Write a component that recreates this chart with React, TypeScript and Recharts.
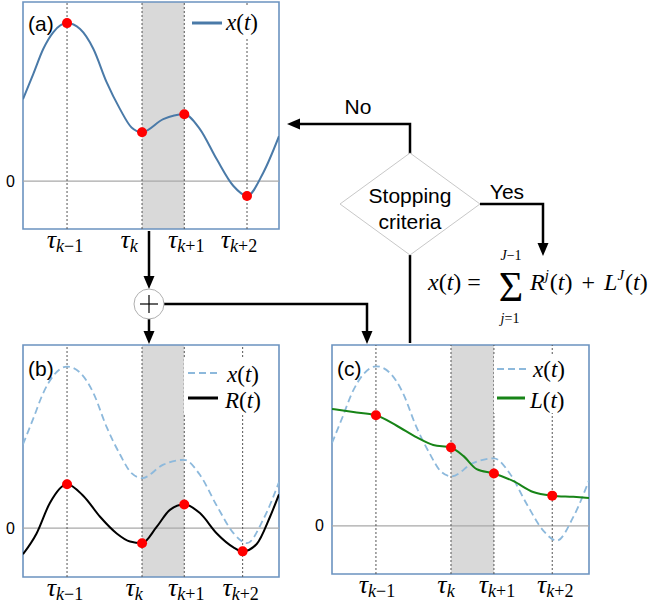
import React from "react";
import {
  ComposedChart,
  Line,
  XAxis,
  YAxis,
  ReferenceLine,
  ReferenceArea,
  ReferenceDot,
} from "recharts";

// time axis runs 0..100 across each panel, values in signal units
const T_X = [0, 4, 7.9, 11.8, 17.2, 22.3, 27.5, 32.7, 37.9, 42.4, 46.5, 54.8, 63, 69.1, 75.7, 82.2, 87.5, 93.9, 100];
const X_VALS = [2.06, 2.69, 3.32, 3.74, 3.97, 3.82, 3.32, 2.48, 1.81, 1.35, 1.23, 1.56, 1.68, 1.31, 0.55, -0.12, -0.37, 0.22, 1.13];

const T_R = [0, 5.3, 10.5, 17.2, 23.6, 30.1, 36.6, 41.8, 46.5, 52.2, 57.4, 63, 69.1, 75.7, 82.2, 85.8, 91.3, 96.5, 100];
const R_VALS = [-0.64, -0.13, 0.62, 1.08, 0.79, 0.28, -0.13, -0.33, -0.37, 0.03, 0.45, 0.58, 0.37, -0.13, -0.47, -0.57, -0.39, 0.28, 0.83];

const T_L = [0, 8.3, 17.1, 25.2, 33, 39.4, 46.2, 51.1, 56.3, 63, 70.6, 78.3, 85.7, 93.9, 100];
const L_VALS = [2.91, 2.83, 2.75, 2.49, 2.2, 2.01, 1.95, 1.74, 1.41, 1.3, 1.11, 0.84, 0.75, 0.72, 0.69];

const TAU_A = [17.2, 46.5, 63, 87.5];
const TAU_B = [17.2, 46.5, 63, 85.8];
const TAU_C = [17.1, 46.3, 63, 85.7];
const TAU_SUBS = [["k", "−1"], ["k", ""], ["k", "+1"], ["k", "+2"]];
// label nudges (px) as placed in the figure
const NUDGE_A = [-2, -13, 2, -8];
const NUDGE_B = [-2, -8, 2, -2];
const NUDGE_C = [1, -5, 3, 3];

const DOT_A = [3.97, 1.23, 1.68, -0.37];
const DOT_B = [1.08, -0.37, 0.58, -0.57];
const DOT_C = [2.75, 1.95, 1.3, 0.75];

const Y_DOMAIN = [-1.2, 4.5];

const BLUE = "#4a7aa8";
const LIGHT_BLUE = "#8db9dc";
const GREEN = "#178417";
const FRAME = "#6b93c0";
const SERIF = "Liberation Serif, DejaVu Serif, serif";
const SANS = "Liberation Sans, Arial, sans-serif";

const toRows = (ts: number[], vs: number[]) => ts.map((t, i) => ({ t, v: vs[i] }));

function TauTick({ x, y, payload, taus, nudge }: any) {
  const i = taus.indexOf(payload.value);
  const [k, rest] = TAU_SUBS[i] || ["", ""];
  return (
    <text x={x + (nudge[i] || 0)} y={y + 11} textAnchor="middle" style={{ fontFamily: SERIF }} fill="#000">
      <tspan fontSize={26} fontStyle="italic">τ</tspan>
      <tspan fontSize={18} fontStyle="italic" dy={4}>{k}</tspan>
      <tspan fontSize={18}>{rest}</tspan>
    </text>
  );
}

type Series = { rows: { t: number; v: number }[]; color: string; dash?: string; width: number };

function Panel({ left, top, width, height, marginTop, yWidth, xHeight, taus, nudge, series, dots }: {
  left: number; top: number; width: number; height: number; marginTop: number;
  yWidth: number; xHeight: number; taus: number[]; nudge: number[]; series: Series[]; dots: number[];
}) {
  return (
    <div style={{ position: "absolute", left, top }}>
      <ComposedChart width={width} height={height} margin={{ top: marginTop, right: 6, left: 0, bottom: 0 }}>
        <XAxis
          type="number"
          dataKey="t"
          domain={[0, 100]}
          ticks={taus}
          allowDataOverflow
          axisLine={false}
          tickLine={false}
          height={xHeight}
          interval={0}
          tick={<TauTick taus={taus} nudge={nudge} />}
        />
        <YAxis
          type="number"
          domain={Y_DOMAIN}
          ticks={[0]}
          allowDataOverflow
          axisLine={false}
          tickLine={false}
          width={yWidth}
          tick={{ fill: "#000", fontSize: 16, fontFamily: SANS }}
        />
        <ReferenceArea x1={taus[1]} x2={taus[2]} y1={Y_DOMAIN[0]} y2={Y_DOMAIN[1]} fill="#d9d9d9" fillOpacity={1} stroke="none" />
        <ReferenceLine y={0} stroke="#a8a8a8" strokeWidth={1.2} />
        {taus.map((t) => (
          <ReferenceLine key={t} x={t} stroke="#555" strokeDasharray="2 2" strokeWidth={1} />
        ))}
        {series.map((s, i) => (
          <Line
            key={i}
            data={s.rows}
            dataKey="v"
            type="monotone"
            stroke={s.color}
            strokeWidth={s.width}
            strokeDasharray={s.dash}
            dot={false}
            isAnimationActive={false}
          />
        ))}
        {taus.map((t, i) => (
          <ReferenceDot key={"d" + t} x={t} y={dots[i]} r={5} fill="#ff0000" stroke="none" />
        ))}
        <ReferenceArea
          x1={0}
          x2={100}
          y1={Y_DOMAIN[0]}
          y2={Y_DOMAIN[1]}
          fill="none"
          stroke={FRAME}
          strokeWidth={1.6}
          ifOverflow="visible"
        />
      </ComposedChart>
    </div>
  );
}

function MathLabel({ x, y, name }: { x: number; y: number; name: string }) {
  return (
    <text x={x} y={y} style={{ fontFamily: SERIF }} fontSize={23} fill="#000">
      <tspan fontStyle="italic">{name}</tspan>
      <tspan>(</tspan>
      <tspan fontStyle="italic">t</tspan>
      <tspan>)</tspan>
    </text>
  );
}

function Arrow({ d, tip, dir }: { d: string; tip: [number, number]; dir: "down" | "left" }) {
  const [tx, ty] = tip;
  const head =
    dir === "down"
      ? `${tx},${ty} ${tx - 5.5},${ty - 13} ${tx + 5.5},${ty - 13}`
      : `${tx},${ty} ${tx + 13},${ty - 5.5} ${tx + 13},${ty + 5.5}`;
  return (
    <g>
      <path d={d} fill="none" stroke="#000" strokeWidth={2.5} />
      <polygon points={head} fill="#000" />
    </g>
  );
}

export default function App() {
  const xRows = toRows(T_X, X_VALS);
  const rRows = toRows(T_R, R_VALS);
  const lRows = toRows(T_L, L_VALS);

  return (
    <div style={{ position: "absolute", left: 0, top: 0, width: 657, height: 604, background: "#fff", overflow: "hidden" }}>
      <Panel
        left={0} top={0} width={285} height={260} marginTop={2} yWidth={23} xHeight={31}
        taus={TAU_A} nudge={NUDGE_A}
        series={[{ rows: xRows, color: BLUE, width: 2 }]}
        dots={DOT_A}
      />
      <Panel
        left={0} top={340} width={285} height={270} marginTop={5} yWidth={23} xHeight={33}
        taus={TAU_B} nudge={NUDGE_B}
        series={[
          { rows: xRows, color: LIGHT_BLUE, width: 1.8, dash: "7 4" },
          { rows: rRows, color: "#000", width: 2 },
        ]}
        dots={DOT_B}
      />
      <Panel
        left={300} top={340} width={295} height={270} marginTop={5} yWidth={32} xHeight={36}
        taus={TAU_C} nudge={NUDGE_C}
        series={[
          { rows: xRows, color: LIGHT_BLUE, width: 1.8, dash: "7 4" },
          { rows: lRows, color: GREEN, width: 2 },
        ]}
        dots={DOT_C}
      />

      <svg width={657} height={604} style={{ position: "absolute", left: 0, top: 0, pointerEvents: "none" }}>
        {/* panel letters */}
        <text x={28} y={31} style={{ fontFamily: SANS }} fontSize={21}>(a)</text>
        <text x={28} y={376} style={{ fontFamily: SANS }} fontSize={21}>(b)</text>
        <text x={337} y={376} style={{ fontFamily: SANS }} fontSize={21}>(c)</text>

        {/* legends */}
        <rect x={188} y={6} width={76} height={32} fill="#fff" />
        <line x1={192} y1={23} x2={222} y2={23} stroke={BLUE} strokeWidth={3} />
        <MathLabel x={226} y={30} name="x" />

        <rect x={184} y={358} width={86} height={56} fill="#fff" />
        <line x1={188} y1={373} x2={220} y2={373} stroke={LIGHT_BLUE} strokeWidth={2} strokeDasharray="7 4" />
        <MathLabel x={227} y={382} name="x" />
        <line x1={188} y1={398} x2={218} y2={398} stroke="#000" strokeWidth={3} />
        <MathLabel x={225} y={408} name="R" />

        <rect x={494} y={355} width={92} height={58} fill="#fff" />
        <line x1={497} y1={369} x2={527} y2={369} stroke={LIGHT_BLUE} strokeWidth={2} strokeDasharray="7 4" />
        <MathLabel x={533} y={377} name="x" />
        <line x1={497} y1={398} x2={525} y2={398} stroke={GREEN} strokeWidth={3} />
        <MathLabel x={530} y={408} name="L" />

        {/* flow: stopping criteria */}
        <line x1={410} y1={255} x2={410} y2={343} stroke="#000" strokeWidth={2.5} />
        <Arrow d="M410,154 V124 H298" tip={[287, 124]} dir="left" />
        <Arrow d="M480,204 H543 V244" tip={[543, 256]} dir="down" />
        <polygon points="410,153 480,204 410,255 340,204" fill="#fff" stroke="#c8c8c8" strokeWidth={1} />
        <text x={410} y={203} textAnchor="middle" style={{ fontFamily: SANS }} fontSize={21}>Stopping</text>
        <text x={410} y={229} textAnchor="middle" style={{ fontFamily: SANS }} fontSize={21}>criteria</text>
        <text x={358} y={114} textAnchor="middle" style={{ fontFamily: SANS }} fontSize={21}>No</text>
        <text x={507} y={199} textAnchor="middle" style={{ fontFamily: SANS }} fontSize={21}>Yes</text>

        {/* flow: residual / sum */}
        <Arrow d="M149,231 V277" tip={[149, 289]} dir="down" />
        <Arrow d="M149,319 V332" tip={[149, 344]} dir="down" />
        <Arrow d="M164,304 H367 V332" tip={[367, 344]} dir="down" />
        <circle cx={149} cy={304} r={15} fill="#fff" stroke="#b0b0b0" strokeWidth={1} />
        <line x1={140} y1={304} x2={158} y2={304} stroke="#000" strokeWidth={1.2} />
        <line x1={149} y1={295} x2={149} y2={313} stroke="#000" strokeWidth={1.2} />

        {/* reconstruction formula */}
        <text x={428} y={290} style={{ fontFamily: SERIF }} fontSize={24}>
          <tspan fontStyle="italic">x</tspan>
          <tspan>(</tspan>
          <tspan fontStyle="italic">t</tspan>
          <tspan>)</tspan>
          <tspan dx={6}>=</tspan>
        </text>
        <text x={511} y={301} textAnchor="middle" style={{ fontFamily: SERIF }} fontSize={42}>Σ</text>
        <text x={511} y={260} textAnchor="middle" style={{ fontFamily: SERIF }} fontSize={14}>
          <tspan fontStyle="italic">J</tspan>
          <tspan>−1</tspan>
        </text>
        <text x={510} y={323} textAnchor="middle" style={{ fontFamily: SERIF }} fontSize={14}>
          <tspan fontStyle="italic">j</tspan>
          <tspan>=1</tspan>
        </text>
        <text x={530} y={290} style={{ fontFamily: SERIF }} fontSize={24}>
          <tspan fontStyle="italic">R</tspan>
          <tspan fontSize={15} fontStyle="italic" dy={-10}>j</tspan>
          <tspan dy={10} dx={1}>(</tspan>
          <tspan fontStyle="italic">t</tspan>
          <tspan>)</tspan>
          <tspan dx={9}>+</tspan>
          <tspan dx={9} fontStyle="italic">L</tspan>
          <tspan fontSize={15} fontStyle="italic" dy={-10}>J</tspan>
          <tspan dy={10} dx={1}>(</tspan>
          <tspan fontStyle="italic">t</tspan>
          <tspan>)</tspan>
        </text>
      </svg>
    </div>
  );
}
